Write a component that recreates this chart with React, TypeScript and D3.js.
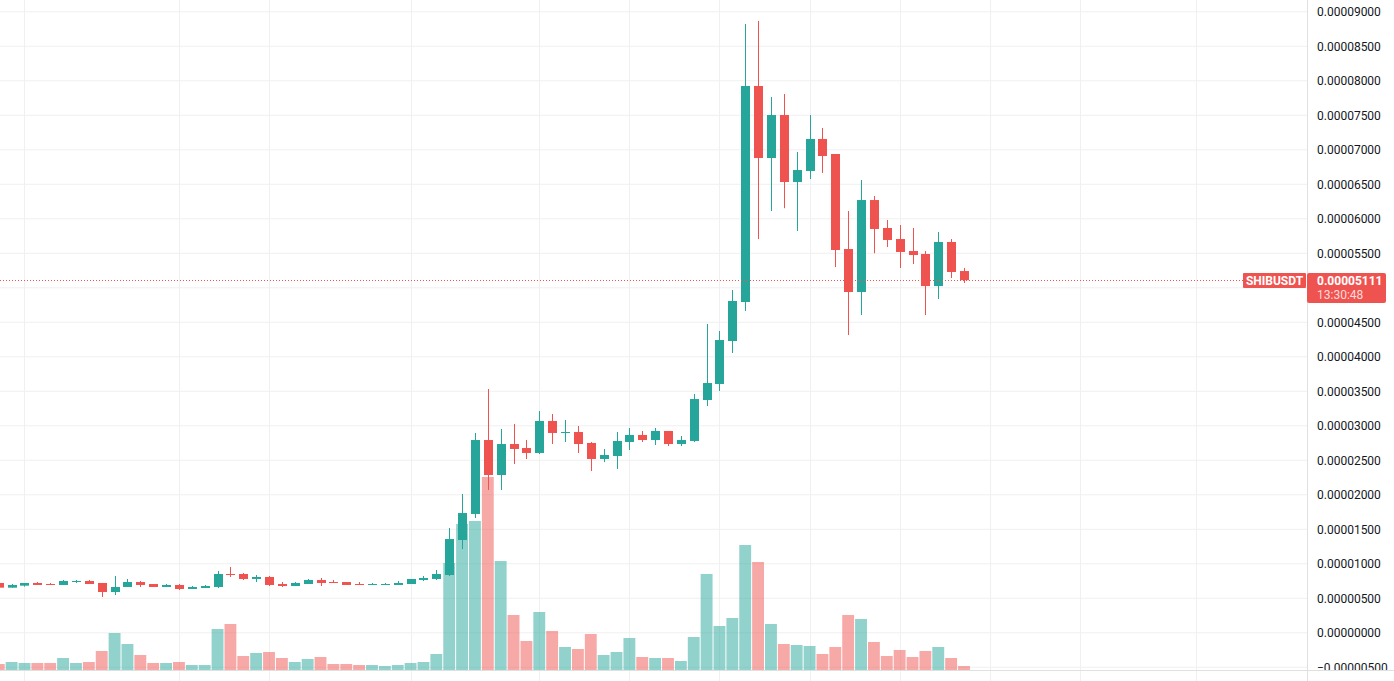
import { max, scaleLinear, scaleUtc, utcDay } from "d3";
import React from "react";

// SHIBUSDT daily candles, prices in units of 1e-6 USDT
const UNIT = 1e-6;
const START = new Date(Date.UTC(2021, 7, 30));

const opens = [
  7.22, 6.54, 6.83, 7.22, 7.07, 6.93, 7.36, 7.51, 7.22, 5.91,
  6.64, 7.36, 7.07, 6.64, 6.93, 6.35, 6.49, 6.64, 8.52, 8.52,
  7.8, 8.09, 7.07, 6.78, 7.07, 7.65, 7.36, 7.36, 7.07, 6.93,
  6.93, 6.93, 7.07, 7.65, 7.8, 8.38, 13.45, 17.22, 27.94, 22.87,
  27.36, 26.78, 26.06, 30.7, 28.96, 29.1, 27.51, 25.19, 25.62, 27.65,
  28.67, 27.94, 29.25, 27.36, 27.8, 33.74, 36.06, 42.29, 47.94, 79.25,
  68.81, 75.04, 65.33, 66.93, 71.57, 69.39, 55.62, 49.39, 62.72, 58.67,
  57.07, 55.33, 54.9, 50.25, 56.64, 52.43,
];
const highs = [
  7.22, 7.07, 7.22, 7.36, 7.22, 7.65, 7.65, 7.65, 7.22, 8.23,
  7.8, 7.51, 7.07, 7.07, 7.07, 6.78, 6.93, 8.96, 9.54, 8.67,
  8.38, 8.23, 7.36, 7.36, 7.8, 7.94, 7.65, 7.36, 7.36, 7.22,
  7.22, 7.51, 7.8, 8.23, 9.1, 15.19, 20.12, 28.96, 35.33, 29.54,
  30.26, 27.94, 32.14, 31.71, 30.84, 29.97, 27.65, 26.64, 29.1, 29.68,
  29.25, 29.68, 29.25, 28.52, 34.61, 44.75, 43.74, 49.68, 88.23, 88.67,
  77.65, 78.09, 69.68, 75.04, 73.16, 69.39, 61.13, 65.62, 63.3, 59.83,
  59.1, 58.67, 55.33, 58.09, 57.07, 52.87,
];
const lows = [
  6.54, 6.54, 6.69, 6.93, 6.93, 6.93, 7.22, 7.07, 5.19, 5.48,
  6.64, 6.64, 6.64, 6.64, 6.2, 6.35, 6.49, 6.49, 8.09, 7.65,
  7.36, 6.78, 6.64, 6.78, 7.07, 6.78, 7.22, 6.93, 6.93, 6.93,
  6.93, 6.93, 7.07, 7.51, 7.65, 8.23, 12.14, 16.64, 20.7, 20.7,
  24.46, 25.19, 25.91, 27.36, 27.65, 26.06, 23.45, 24.75, 23.74, 26.49,
  27.65, 27.22, 27.07, 27.07, 27.65, 32.87, 35.04, 40.55, 46.64, 57.07,
  61.13, 61.54, 58.23, 65.77, 66.64, 53.01, 43.16, 46.06, 55.01, 55.91,
  52.87, 53.45, 46.06, 48.38, 51.42, 50.7,
];
const closes = [
  6.54, 6.93, 7.22, 6.93, 6.93, 7.51, 7.51, 7.07, 5.91, 6.64,
  7.36, 6.93, 6.64, 6.93, 6.35, 6.64, 6.78, 8.52, 8.38, 7.8,
  8.09, 6.93, 6.78, 7.22, 7.65, 7.22, 7.22, 6.93, 6.93, 7.07,
  7.07, 7.22, 7.8, 7.94, 8.52, 13.59, 17.36, 27.94, 22.87, 27.36,
  26.64, 26.06, 30.7, 28.96, 29.1, 27.36, 25.19, 25.77, 27.8, 28.67,
  27.94, 29.25, 27.36, 27.94, 33.88, 36.2, 42.43, 48.09, 79.25, 68.81,
  75.04, 65.33, 67.07, 71.57, 69.1, 55.48, 49.39, 62.72, 58.52, 56.93,
  55.19, 54.75, 50.25, 56.64, 52.29, 51.11,
];
// volume, trillions of SHIB
const volumes = [
  0.6, 0.8, 0.7, 0.7, 0.7, 1.2, 0.7, 0.8, 1.9, 3.7,
  2.6, 1.5, 0.7, 0.7, 0.8, 0.5, 0.5, 4.1, 4.6, 1.4,
  1.7, 1.8, 1.2, 0.8, 1.1, 1.3, 0.6, 0.6, 0.5, 0.5,
  0.4, 0.5, 0.7, 0.8, 1.6, 10.7, 14.6, 14.9, 19.3, 10.9,
  5.5, 2.9, 5.8, 3.9, 2.3, 2.1, 3.6, 1.5, 1.8, 3.2,
  1.3, 1.2, 1.2, 0.9, 3.3, 9.6, 4.4, 5.2, 12.5, 10.8,
  4.6, 2.6, 2.5, 2.4, 1.6, 2.3, 5.5, 5.1, 2.8, 1.4,
  2.0, 1.3, 1.9, 2.3, 1.2, 0.4,
];

const priceTicks = [
  -5, 0, 5, 10, 15, 20, 25, 30, 35, 40, 45, 50, 55, 60, 65, 70, 75, 80, 85, 90,
];
const gridDates = [
  "2021-09-01", "2021-09-13", "2021-09-20", "2021-10-01", "2021-10-11", "2021-10-18",
  "2021-10-25", "2021-11-01", "2021-11-08", "2021-11-15", "2021-11-22", "2021-12-01",
];
const symbol = "SHIBUSDT";
const lastPrice = 51.11;
const countdown = "13:30:48";

const width = 1394;
const height = 681;
const paneRight = 1307;
const paneBottom = 670;
const step = 12.87;

const UP = "#26a69a";
const DOWN = "#ef5350";
const GRID = "#f0f0f0";

const dates = opens.map((_, i) => utcDay.offset(START, i));
const n = opens.length;

const xScale = scaleUtc()
  .domain([dates[0], dates[n - 1]])
  .range([964 - (n - 1) * step, 964]);
const yScale = scaleLinear().domain([0, 90 * UNIT]).range([632.8, 11.8]);
const volScale = scaleLinear()
  .domain([0, max(volumes) as number])
  .range([paneBottom, paneBottom - 193]);

const fmt = (v: number) => {
  const s = Math.abs(v * UNIT).toFixed(8);
  return v < 0 ? "\u2212" + s : s;
};

export default function App() {
  const font = "'Trebuchet MS', Roboto, sans-serif";
  const bodyW = 9;
  const volW = step - 1;
  const yLast = yScale(lastPrice * UNIT);
  const boxTop = Math.round(yLast) - 7;
  const boxH = 30;
  // the last-price box hides the axis label it sits on
  const axisTicks = priceTicks.filter((t) => {
    const y = yScale(t * UNIT);
    return y < boxTop - 6 || y > boxTop + boxH + 6;
  });

  return (
    <svg
      width={width}
      height={height}
      viewBox={`0 0 ${width} ${height}`}
      style={{ position: "fixed", left: 0, top: 0, background: "#fff" }}
    >
      <defs>
        <clipPath id="pane">
          <rect x={0} y={0} width={paneRight} height={paneBottom} />
        </clipPath>
        <clipPath id="axis">
          <rect x={paneRight} y={0} width={width - paneRight} height={paneBottom} />
        </clipPath>
      </defs>

      {/* grid */}
      <g>
        {priceTicks.map((t) => (
          <line
            key={t}
            x1={0}
            x2={paneRight}
            y1={yScale(t * UNIT)}
            y2={yScale(t * UNIT)}
            stroke={GRID}
          />
        ))}
        {gridDates.map((d) => {
          const x = Math.round(xScale(new Date(d + "T00:00:00Z"))) + 0.5;
          return <line key={d} x1={x} x2={x} y1={0} y2={height} stroke={GRID} />;
        })}
      </g>

      <g clipPath="url(#pane)">
        {/* volume */}
        {volumes.map((v, i) => {
          const x = xScale(dates[i]);
          const up = closes[i] >= opens[i];
          return (
            <rect
              key={"v" + i}
              x={x - volW / 2}
              y={volScale(v)}
              width={volW}
              height={paneBottom - volScale(v)}
              fill={up ? UP : DOWN}
              fillOpacity={0.5}
            />
          );
        })}

        {/* candles */}
        {opens.map((o, i) => {
          const x = Math.round(xScale(dates[i]));
          const c = closes[i];
          const up = c >= o;
          const color = up ? UP : DOWN;
          const yTop = yScale(Math.max(o, c) * UNIT);
          const yBot = yScale(Math.min(o, c) * UNIT);
          return (
            <g key={"c" + i}>
              <rect
                x={x}
                y={yScale(highs[i] * UNIT)}
                width={1}
                height={yScale(lows[i] * UNIT) - yScale(highs[i] * UNIT)}
                fill={color}
              />
              <rect
                x={x - (bodyW - 1) / 2}
                y={yTop}
                width={bodyW}
                height={Math.max(1, yBot - yTop)}
                fill={color}
              />
            </g>
          );
        })}

        {/* last price line */}
        <line
          x1={0}
          x2={1243}
          y1={Math.round(yLast) + 0.5}
          y2={Math.round(yLast) + 0.5}
          stroke={DOWN}
          strokeDasharray="1 2"
        />
      </g>

      {/* borders */}
      <line x1={paneRight + 0.5} x2={paneRight + 0.5} y1={0} y2={height} stroke="#e0e0e0" />
      <line x1={0} x2={width} y1={paneBottom + 0.5} y2={paneBottom + 0.5} stroke="#e0e0e0" />

      {/* price axis */}
      <g clipPath="url(#axis)" fontFamily={font} fontSize={12} fill="#131722">
        {axisTicks.map((t) => (
          <text key={t} x={1317} y={yScale(t * UNIT)} dy="0.35em">
            {fmt(t)}
          </text>
        ))}
      </g>

      {/* symbol + last price labels */}
      <g fontFamily={font} fontWeight="bold" fontSize={12} fill="#fff">
        <rect x={1243} y={boxTop} width={63} height={15} rx={1} fill={DOWN} />
        <text x={1274.5} y={boxTop + 7.5} dy="0.35em" textAnchor="middle">
          {symbol}
        </text>
        <rect x={paneRight} y={boxTop} width={79} height={boxH} rx={2} fill={DOWN} />
        <text x={1317} y={boxTop + 8} dy="0.35em">
          {fmt(lastPrice)}
        </text>
        <text x={1317} y={boxTop + 22} dy="0.35em" fontWeight="normal" fillOpacity={0.8}>
          {countdown}
        </text>
      </g>
    </svg>
  );
}
